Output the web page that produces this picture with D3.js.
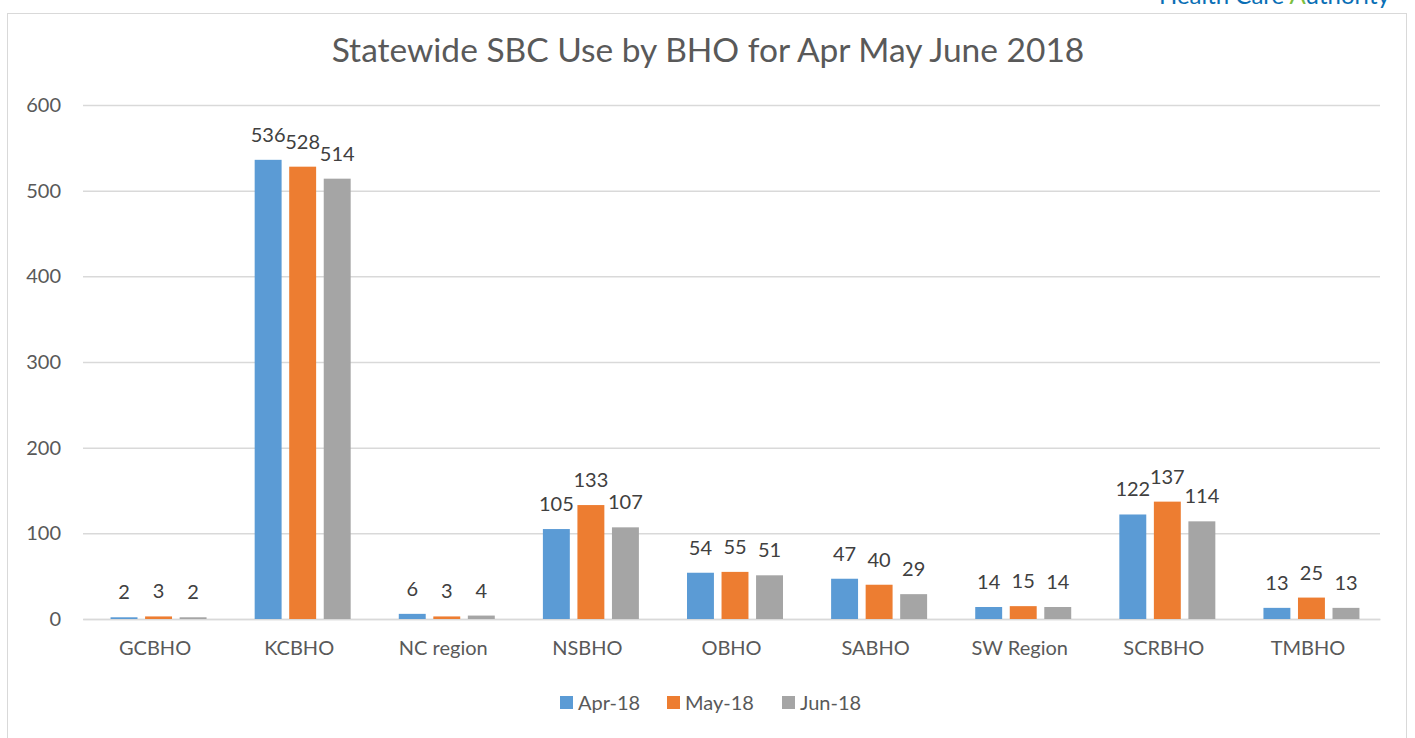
<!DOCTYPE html>
<html><head><meta charset="utf-8">
<script src="https://cdn.jsdelivr.net/npm/d3@7"></script>
<style>body{margin:0;background:#fff;}svg{display:block;font-family:Lato,"Open Sans",sans-serif;}</style>
</head><body><svg id="c" width="1415" height="738"></svg>
<script>
const categories = ["GCBHO","KCBHO","NC region","NSBHO","OBHO","SABHO","SW Region","SCRBHO","TMBHO"];
const seriesNames = ["Apr-18","May-18","Jun-18"];
const apr18 = [2,536,6,105,54,47,14,122,13];
const may18 = [3,528,3,133,55,40,15,137,25];
const jun18 = [2,514,4,107,51,29,14,114,13];
const yTicks = [0,100,200,300,400,500,600];
const colors = ["#5B9BD5","#ED7D31","#A5A5A5"];
const series = [apr18, may18, jun18];

const svg = d3.select("#c");
const txt = "#595959";
// header fragment (cut off at top edge, as in the source)
const hdr = svg.append("text").attr("x",1390).attr("y",4).attr("text-anchor","end")
  .attr("font-size",24).attr("fill","#0a6fb5");
hdr.append("tspan").text("Health Care ");
hdr.append("tspan").attr("fill","#7cbf3f").text("A");
hdr.append("tspan").text("uthority");
// frame
svg.append("rect").attr("x",7.5).attr("y",13.5).attr("width",1399).attr("height",740)
  .attr("fill","#fff").attr("stroke","#d9d9d9");

const x0 = d3.scaleBand().domain(categories).range([83,1380]);
const y = d3.scaleLinear().domain([0,600]).range([619,105]);
const x1 = d3.scaleBand().domain([0,1,2]).range([0,96]).paddingInner(0.22).paddingOuter(0);

svg.append("text").attr("x",708).attr("y",62).attr("text-anchor","middle")
  .attr("font-size",33.5).attr("fill",txt).text("Statewide SBC Use by BHO for Apr May June 2018");

const yAxis = svg.append("g").attr("transform","translate(83,0)")
  .call(d3.axisLeft(y).tickValues(yTicks).tickSize(-1297).tickPadding(22));
yAxis.select(".domain").remove();
yAxis.selectAll("line").attr("stroke","#d9d9d9").attr("stroke-width",1.5);
yAxis.selectAll("text").attr("font-size",20).attr("fill",txt).attr("font-family","Lato,'Open Sans',sans-serif");

const xAxis = svg.append("g").attr("transform","translate(0,619)")
  .call(d3.axisBottom(x0).tickSize(0).tickPadding(22));
xAxis.select(".domain").attr("stroke","#d9d9d9").attr("stroke-width",1.5);
xAxis.selectAll("text").attr("font-size",20).attr("fill",txt).attr("font-family","Lato,'Open Sans',sans-serif");

const groupW = 96;
series.forEach((vals, si) => {
  const g = svg.append("g");
  g.selectAll("rect").data(vals).enter().append("rect")
    .attr("x",(d,i)=> x0(categories[i]) + x0.bandwidth()/2 - groupW/2 + x1(si) + 3.5)
    .attr("width", x1.bandwidth())
    .attr("y", d=>y(d)).attr("height", d=>y(0)-y(d))
    .attr("fill", colors[si]);
  g.selectAll("text").data(vals).enter().append("text")
    .attr("x",(d,i)=> x0(categories[i]) + x0.bandwidth()/2 - groupW/2 + x1(si) + 3.5 + x1.bandwidth()/2)
    .attr("y", d=>y(d)-18)
    .attr("text-anchor","middle").attr("font-size",20).attr("fill","#404040").text(d=>d);
});

// legend
const legX = [560, 667, 782];
const lg = svg.append("g");
seriesNames.forEach((n,i)=>{
  lg.append("rect").attr("x",legX[i]).attr("y",696).attr("width",13).attr("height",13).attr("fill",colors[i]);
  lg.append("text").attr("x",legX[i]+18).attr("y",710).attr("font-size",20).attr("fill",txt).text(n);
});
</script></body></html>
